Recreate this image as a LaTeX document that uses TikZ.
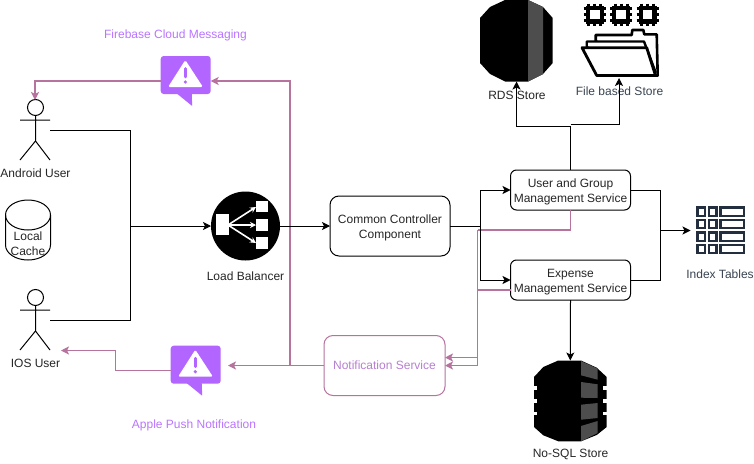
\documentclass[tikz,border=0pt]{standalone}
\usepackage{fontspec}
\setmainfont{Liberation Sans}
\usetikzlibrary{arrows.meta,calc}
\definecolor{pinkline}{HTML}{B5739D}
\definecolor{alertpurple}{HTML}{B266FF}
\definecolor{notiftext}{HTML}{B77FD0}
\definecolor{slate}{HTML}{232F3E}
\definecolor{band}{HTML}{4D4D4D}
\newcommand{\lowertext}{\rule{0pt}{12pt}}
\newcommand{\alerticon}[2]{%
  \begin{scope}[shift={(#1,#2)}]
    \fill[alertpurple,rounded corners=3] (0,0) rectangle (50,38);
    \fill[alertpurple] (15.5,37) -- (31.5,50) -- (31,37) -- cycle;
    \fill[white,rounded corners=1.5] (24.6,4) -- (42.2,31) -- (7.4,31) -- cycle;
    \draw[alertpurple,line width=2.6,line cap=round] (24.6,12.5) -- (24.6,21);
    \fill[alertpurple] (24.6,26) circle (1.8);
  \end{scope}}
\newcommand{\chipicon}[2]{%
  \begin{scope}[shift={(#1,#2)}]
    \foreach \o in {-6,0,6}{
      \draw[line width=3] (-11,\o) -- (11,\o);
      \draw[line width=3] (\o,-11) -- (\o,11);}
    \fill[black] (-9,-9) rectangle (9,9);
    \fill[white] (-4.8,-4.8) rectangle (4.8,4.8);
  \end{scope}}
\tikzset{
  x=1pt,y=-1pt,
  every node/.style={font=\fontsize{12}{15}\selectfont,inner sep=0pt,outer sep=0pt},
  lbl/.style={text=black!85,align=center},
  svc/.style={draw=black,line width=1,rounded corners=6,fill=white,align=center,minimum width=120,minimum height=40,text=black!85},
  wire/.style={line width=1,draw=black,-{Stealth[length=8,width=8,inset=2]}},
  plainwire/.style={line width=1,draw=black},
  pinkwire/.style={line width=1.1,draw=pinkline,-{Stealth[length=8,width=8,inset=2]}},
  pinkplain/.style={line width=1.1,draw=pinkline},
  stick/.style={line width=1,draw=black,fill=none},
}
\begin{document}
\begin{tikzpicture}
\useasboundingbox (0,0) rectangle (754,463);
\fill[white] (0,0) rectangle (754,463);

% actors
\node[minimum width=30,minimum height=60] (android) at (35,130) {};
\draw[stick] (35.5,107.5) circle (8);
\draw[stick] (35.5,115.5) -- (35.5,141) (20,120) -- (50,120) (20,160) -- (35.5,141) -- (50,160);
\node[lbl] (androidlbl) at (35.5,173.7) {Android User};

\node[minimum width=30,minimum height=60] (ios) at (35,320) {};
\draw[stick] (35.5,297.5) circle (8);
\draw[stick] (35.5,305.5) -- (35.5,331) (20,310) -- (50,310) (20,350) -- (35.5,331) -- (50,350);
\node[lbl] (ioslbl) at (35.5,363.7) {IOS User};

% cache
\draw[stick,fill=white] (5.5,215) arc[start angle=180,end angle=360,x radius=22.5,y radius=15]
  -- (50.5,245) arc[start angle=0,end angle=180,x radius=22.5,y radius=15] -- cycle;
\draw[stick] (5.5,215) arc[start angle=180,end angle=0,x radius=22.5,y radius=15];
\node[lbl] (cache) at (28,243.7) {Local\\Cache};

% load balancer
\node[circle,fill=black,minimum size=69] (lb) at (245.5,226) {};
\fill[white] (216,214) rectangle (229,235);
\fill[white] (256,201) rectangle (268,212);
\fill[white] (256,219) rectangle (268,231);
\fill[white] (256,237) rectangle (268,249);
\coordinate (lbfrom) at (228,225);
\foreach \ty in {207,225,243}{
  \draw[white,line width=1.6,-{Stealth[length=6,width=6]}] (lbfrom) -- (256,\ty);}
\node[lbl] (lblbl) at (245.5,276) {Load Balancer};

% boxes
\node[svc,minimum width=120,minimum height=60,rounded corners=9] (common) at (390,226) {\lowertext Common Controller\\Component};
\node[svc] (usersvc) at (570.5,190) {\lowertext User and Group\\Management Service};
\node[svc] (expense) at (570.5,280) {\lowertext Expense\\Management Service};
\node[draw=pinkline,line width=1,rounded corners=9,fill=white,minimum width=121,minimum height=60,text=notiftext] (notif) at (384.5,365.5) {Notification Service};

% RDS
\node[minimum width=73,minimum height=81.5] (rds) at (516.5,40.75) {};
\fill[black] (505,0) -- (528,0) -- (543,7) -- (552.7,18) -- (552.7,63) -- (543,74) -- (528,81.5) -- (505,81.5) -- (490,74) -- (480,63) -- (480,18) -- (490,7) -- cycle;
\fill[band] (528,0) -- (543,7) -- (543,74) -- (528,81.5) -- cycle;
\node[lbl] (rdslbl) at (517,95) {RDS Store};

% file store
\node[minimum width=76,minimum height=76] (files) at (619,40) {};
\chipicon{594.7}{14.5}
\chipicon{621}{14.5}
\chipicon{647.5}{14.5}
\draw[line width=2.6,line join=round,fill=white] (595.7,41) -- (595.7,35) -- (631.7,35) -- (632.3,30) -- (643.3,30) -- (644.3,34.3) -- (656.7,34.3) -- (657.7,75.5) -- (640,75.5) -- cycle;
\draw[line width=2.4,line join=round,fill=white] (586.7,47) -- (586.7,41.5) -- (644,41.5) -- (655.5,72) -- (640,72) -- cycle;
\draw[line width=2.8,line join=round,fill=white] (582,47.7) -- (646.7,47.7) -- (655.5,75.5) -- (596.7,75.5) -- cycle;
\node[lbl,text=slate!90] (fileslbl) at (619.5,91) {File based Store};

% no-sql
\node[minimum width=73,minimum height=81] (nosql) at (570.3,360.5) [anchor=north] {};
\fill[black] (558.3,360.5) -- (581,360.5) -- (596.7,367.7) -- (606.7,377) -- (606.7,427) -- (596.7,435) -- (581,441.3) -- (558.3,441.3) -- (543.3,435.3) -- (534,427) -- (534,377) -- (543.3,367) -- cycle;
\foreach \a/\b in {386.3/390.3,398.7/402.7,412/414.7}{
  \fill[white] (603.3,\a) rectangle (607,\b);
  \fill[white] (533.7,\a) rectangle (537.4,\b);}
\fill[band] (581,361) -- (597.7,368.7) -- (597.7,379.7) -- (581,375.3) -- cycle;
\fill[band] (581,382) -- (597.7,384.3) -- (597.7,398) -- (581,397.7) -- cycle;
\fill[band] (581,404.7) -- (597.7,403) -- (597.7,418) -- (581,419.7) -- cycle;
\fill[band] (581,426) -- (597.7,421) -- (597.7,433) -- (581,441.3) -- cycle;
\node[lbl] (nosqllbl) at (570.5,454.7) {No-SQL Store};

% index tables
\node[minimum width=55,minimum height=50] (index) at (718,230.5) {};
\foreach \ya in {207.5,220,232.5,245}{
  \draw[slate,line width=2.4] (697.4,\ya) rectangle ++(7.6,8.2);
  \draw[slate,line width=2.4] (709,\ya) rectangle ++(7.6,8.2);
  \draw[slate,line width=2.4] (720.3,\ya) rectangle ++(23.6,8.2);}
\node[lbl,text=slate!90] (indexlbl) at (720,274) {Index Tables};

% alert icons
\node[minimum width=50,minimum height=50] (fcm) at (185.7,81) {};
\alerticon{160.7}{56}
\node[text=alertpurple!90] (fcmlbl) at (175.5,35) {Firebase Cloud Messaging};
\node[minimum width=50,minimum height=50] (apns) at (195.7,370.3) {};
\alerticon{170.7}{345.7}
\node[text=alertpurple!90] (apnslbl) at (194,425) {Apple Push Notification};

% pink connectors
\coordinate (notifbus) at (290,365.5);
\coordinate (apnsin) at (228,365.5);
\coordinate (iosbendA) at (115.5,370.3);
\coordinate (iosbendB) at (115.5,350.5);
\coordinate (iosin) at (61,350.5);
\coordinate (busright) at (477.7,230);
\coordinate (busexp) at (477.7,290);
\coordinate (notifinA) at (445,357.5);
\coordinate (notifinB) at (445,365.5);
\draw[pinkwire] (notif.west) -- (apnsin);
\draw[pinkwire] (notifbus) |- (fcm.east);
\draw[pinkwire] (fcm.west) -| (android.north);
\draw[pinkwire] (apns.west) -- (iosbendA) -- (iosbendB) -- (iosin);
\draw[pinkplain] (usersvc.south) |- (busright);
\draw[pinkwire] (busright) |- (notifinB);
\draw[pinkplain] (expense.west |- busexp) -- (busexp);
\draw[pinkwire] (busexp) |- (notifinA);

% black connectors
\coordinate (inbus) at (130.5,226);
\coordinate (outbus) at (480.5,226);
\coordinate (rightbus) at (660.5,230.5);
\coordinate (storeL) at (570.5,126);
\coordinate (storeR) at (570.5,124);
\draw[plainwire] (android.east) -| (inbus);
\draw[plainwire] (ios.east) -| (inbus);
\draw[wire] (inbus) -- (lb.west);
\draw[wire] (lb.east) -- (common.west);
\draw[plainwire] (common.east) -- (outbus);
\draw[wire] (outbus) |- (usersvc.west);
\draw[wire] (outbus) |- (expense.west);
\draw[plainwire] (usersvc.east) -| (rightbus);
\draw[plainwire] (expense.east) -| (rightbus);
\draw[wire] (rightbus) -- (rightbus -| index.west);
\draw[plainwire] (usersvc.north) -- (storeL);
\draw[wire] (storeL) -| (rds.south);
\draw[wire] (storeR) -| (files.south);
\draw[wire] (expense.south) -- (nosql.north);
\end{tikzpicture}
\end{document}
